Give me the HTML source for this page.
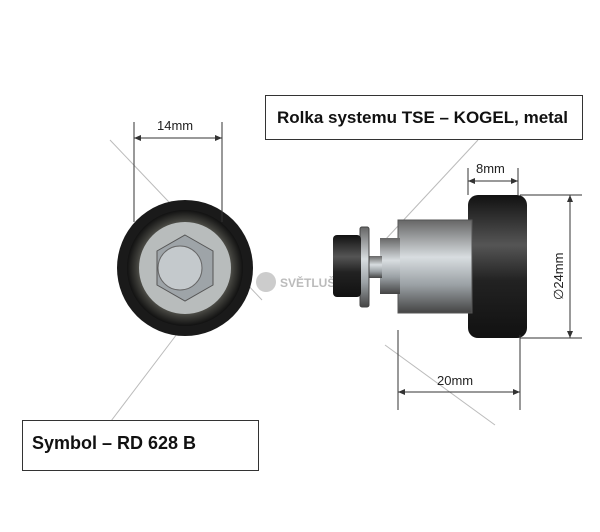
<!DOCTYPE html>
<html><head><style>body{margin:0;background:#fff}svg{display:block}</style></head><body>
<svg width="600" height="532" viewBox="0 0 600 532" xmlns="http://www.w3.org/2000/svg" font-family="Liberation Sans, sans-serif">
<defs>
<linearGradient id="m" x1="0" y1="0" x2="0" y2="1"><stop offset="0" stop-color="#666"/><stop offset="0.4" stop-color="#d8dde0"/><stop offset="0.7" stop-color="#9aa0a4"/><stop offset="1" stop-color="#444"/></linearGradient>
<linearGradient id="b" x1="0" y1="0" x2="0" y2="1"><stop offset="0" stop-color="#111"/><stop offset="0.35" stop-color="#555"/><stop offset="0.6" stop-color="#222"/><stop offset="1" stop-color="#111"/></linearGradient>
<radialGradient id="r" cx="0.5" cy="0.5" r="0.5"><stop offset="0.6" stop-color="#8a8a80"/><stop offset="0.85" stop-color="#3a3a36"/><stop offset="1" stop-color="#111"/></radialGradient>
</defs>
<g stroke="#bbb" stroke-width="1">
<line x1="110" y1="140" x2="262" y2="300"/><line x1="108" y1="425" x2="180" y2="330"/>
<line x1="478" y1="140" x2="385" y2="240"/><line x1="385" y1="345" x2="495" y2="425"/>
</g>
<!-- left wheel -->
<circle cx="185" cy="268" r="68" fill="#1a1a1a"/>
<circle cx="185" cy="268" r="58" fill="url(#r)"/>
<circle cx="185" cy="268" r="46" fill="#b8bcbc"/>
<polygon points="185,235 213,251 213,285 185,301 157,285 157,251" fill="#9ea4a8" stroke="#555"/>
<circle cx="180" cy="268" r="22" fill="#c4c9cc" stroke="#666"/>
<!-- logo -->
<circle cx="266" cy="282" r="10" fill="#ccc"/>
<text x="280" y="287" font-size="12" font-weight="bold" fill="#bbb">SVĚTLUŠKA</text>
<!-- right part -->
<rect x="468" y="195" width="59" height="143" rx="10" fill="url(#b)"/>
<rect x="398" y="220" width="74" height="93" fill="url(#m)" stroke="#555"/>
<rect x="380" y="238" width="20" height="56" fill="url(#m)"/>
<rect x="368" y="256" width="14" height="22" fill="url(#m)"/>
<rect x="360" y="227" width="9" height="80" rx="2" fill="url(#m)" stroke="#444"/>
<rect x="333" y="235" width="28" height="62" rx="4" fill="url(#b)"/>
<!-- dims -->
<g stroke="#333" stroke-width="1" fill="none">
<line x1="134" y1="122" x2="134" y2="222"/><line x1="222" y1="122" x2="222" y2="222"/><line x1="134" y1="138" x2="222" y2="138"/>
<line x1="468" y1="168" x2="468" y2="195"/><line x1="518" y1="168" x2="518" y2="195"/><line x1="468" y1="181" x2="518" y2="181"/>
<line x1="520" y1="195" x2="582" y2="195"/><line x1="520" y1="338" x2="582" y2="338"/><line x1="570" y1="195" x2="570" y2="338"/>
<line x1="398" y1="330" x2="398" y2="410"/><line x1="520" y1="335" x2="520" y2="410"/><line x1="398" y1="392" x2="520" y2="392"/>
</g>
<g fill="#333">
<path d="M134 138l7-3v6zM222 138l-7-3v6zM468 181l7-3v6zM518 181l-7-3v6zM570 195l-3 7h6zM570 338l-3-7h6zM398 392l7-3v6zM520 392l-7-3v6z"/>
</g>
<g font-size="13" fill="#222">
<text x="157" y="130">14mm</text><text x="476" y="173">8mm</text><text x="437" y="385">20mm</text>
<text transform="translate(563,300) rotate(-90)">∅24mm</text>
</g>
<rect x="265.5" y="95.5" width="317" height="44" fill="#fff" stroke="#333"/>
<text x="277" y="123" font-size="17" font-weight="bold" fill="#111">Rolka systemu TSE – KOGEL, metal</text>
<rect x="22.5" y="420.5" width="236" height="50" fill="#fff" stroke="#333"/>
<text x="32" y="449" font-size="18" font-weight="bold" fill="#111">Symbol – RD 628 B</text>
</svg>
</body></html>
